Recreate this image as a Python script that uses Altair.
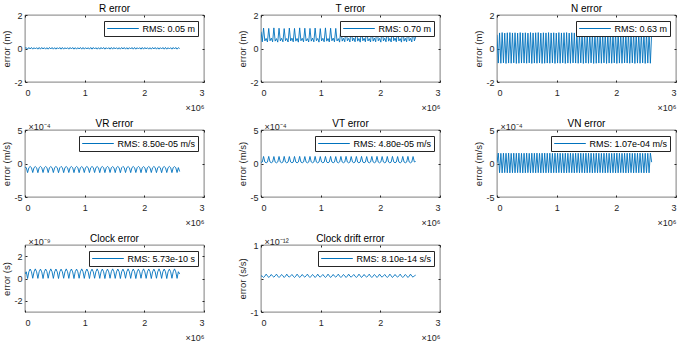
import altair as alt
import pandas as pd

# sample times (hours since start), one sample every 6 h
HOURS = [
    0, 6, 12, 18, 24, 30, 36, 42, 48, 54, 60, 66, 72, 78, 84, 90, 96, 102, 108, 114,
    120, 126, 132, 138, 144, 150, 156, 162, 168, 174, 180, 186, 192, 198, 204, 210, 216, 222, 228, 234,
    240, 246, 252, 258, 264, 270, 276, 282, 288, 294, 300, 306, 312, 318, 324, 330, 336, 342, 348, 354,
    360, 366, 372, 378, 384, 390, 396, 402, 408, 414, 420, 426, 432, 438, 444, 450, 456, 462, 468, 474,
    480, 486, 492, 498, 504, 510, 516, 522, 528, 534, 540, 546, 552, 558, 564, 570, 576, 582, 588, 594,
    600, 606, 612, 618, 624, 630, 636, 642, 648, 654, 660, 666, 672, 678, 684, 690, 696, 702, 708, 714,
    720,
]

R_ERR = [
    0.02,
    0.05, -0.04, 0.06, -0.03, 0.06, -0.04, 0.05, -0.03, 0.05, -0.04, 0.06, -0.04, 0.06, -0.03, 0.05, -0.04, 0.05, -0.04, 0.06, -0.03,
    0.06, -0.04, 0.05, -0.04, 0.05, -0.03, 0.06, -0.04, 0.06, -0.04, 0.05, -0.03, 0.05, -0.04, 0.06, -0.03, 0.06, -0.04, 0.05, -0.04,
    0.05, -0.03, 0.06, -0.04, 0.06, -0.04, 0.05, -0.03, 0.05, -0.04, 0.06, -0.04, 0.06, -0.03, 0.05, -0.04, 0.05, -0.04, 0.06, -0.03,
    0.06, -0.04, 0.05, -0.03, 0.05, -0.04, 0.06, -0.04, 0.06, -0.03, 0.05, -0.04, 0.05, -0.04, 0.06, -0.03, 0.06, -0.04, 0.05, -0.04,
    0.05, -0.03, 0.06, -0.04, 0.06, -0.04, 0.05, -0.03, 0.05, -0.04, 0.06, -0.04, 0.06, -0.03, 0.05, -0.04, 0.05, -0.04, 0.06, -0.03,
    0.06, -0.04, 0.05, -0.04, 0.05, -0.03, 0.06, -0.04, 0.06, -0.04, 0.05, -0.03, 0.05, -0.04, 0.06, -0.03, 0.06, -0.04, 0.05, 0.00,
]

T_ERR = [
    1.00,
    0.40, 1.22, 0.45, 0.60, 0.39, 1.20, 0.46, 0.62, 0.40, 1.23, 0.44, 0.59, 0.38, 1.21, 0.45, 0.61, 0.40, 1.19, 0.46, 0.60,
    0.39, 1.22, 0.45, 0.62, 0.40, 1.20, 0.44, 0.60, 0.38, 1.23, 0.46, 0.61, 0.40, 1.21, 0.45, 0.59, 0.39, 1.20, 0.44, 0.62,
    0.40, 1.22, 0.46, 0.60, 0.38, 1.19, 0.45, 0.61, 0.40, 1.23, 0.44, 0.60, 0.39, 1.21, 0.46, 0.62, 0.40, 1.20, 0.45, 0.59,
    0.38, 1.22, 0.44, 0.61, 0.40, 1.20, 0.46, 0.60, 0.39, 1.23, 0.45, 0.62, 0.40, 1.21, 0.44, 0.60, 0.38, 1.19, 0.46, 0.61,
    0.40, 1.22, 0.45, 0.59, 0.39, 1.20, 0.44, 0.62, 0.40, 1.23, 0.46, 0.60, 0.38, 1.21, 0.45, 0.61, 0.40, 1.20, 0.44, 0.60,
    0.39, 1.22, 0.46, 0.62, 0.40, 1.20, 0.45, 0.59, 0.38, 1.23, 0.44, 0.61, 0.40, 1.21, 0.46, 0.60, 0.39, 1.20, 0.45, 0.68,
]

N_ERR = [
    0.82,
    -0.87, 0.93, -0.88, 0.95, -0.86, 0.92, -0.89, 0.94, -0.87, 0.95, -0.88, 0.93, -0.86, 0.94, -0.89, 0.92, -0.88, 0.95, -0.87, 0.93,
    -0.87, 0.94, -0.88, 0.92, -0.86, 0.95, -0.89, 0.93, -0.87, 0.94, -0.88, 0.95, -0.86, 0.92, -0.89, 0.94, -0.88, 0.93, -0.87, 0.95,
    -0.88, 0.93, -0.86, 0.94, -0.89, 0.92, -0.87, 0.95, -0.88, 0.93, -0.86, 0.94, -0.89, 0.95, -0.87, 0.92, -0.88, 0.94, -0.86, 0.93,
    -0.87, 0.95, -0.88, 0.92, -0.86, 0.94, -0.89, 0.93, -0.87, 0.95, -0.88, 0.94, -0.86, 0.92, -0.89, 0.93, -0.88, 0.95, -0.87, 0.94,
    -0.88, 0.92, -0.86, 0.95, -0.89, 0.93, -0.87, 0.94, -0.88, 0.92, -0.86, 0.95, -0.89, 0.94, -0.87, 0.93, -0.88, 0.95, -0.86, 0.92,
    -0.87, 0.94, -0.88, 0.93, -0.86, 0.95, -0.89, 0.92, -0.87, 0.94, -0.88, 0.93, -0.86, 0.95, -0.89, 0.94, -0.87, 0.92, -0.88, 0.90,
]

# velocity errors, in units of 1e-4 m/s
VR_ERR = [
    -0.55,
    -0.62, -1.36, -0.63, -0.45, -0.61, -1.35, -0.62, -0.46, -0.63, -1.37, -0.61, -0.44, -0.62, -1.35, -0.63, -0.45, -0.61, -1.36, -0.62, -0.46,
    -0.63, -1.35, -0.61, -0.45, -0.62, -1.37, -0.63, -0.44, -0.61, -1.36, -0.62, -0.46, -0.63, -1.35, -0.61, -0.45, -0.62, -1.36, -0.63, -0.44,
    -0.61, -1.37, -0.62, -0.46, -0.63, -1.35, -0.61, -0.45, -0.62, -1.36, -0.63, -0.44, -0.61, -1.35, -0.62, -0.46, -0.63, -1.37, -0.61, -0.45,
    -0.62, -1.36, -0.63, -0.44, -0.61, -1.35, -0.62, -0.46, -0.63, -1.36, -0.61, -0.45, -0.62, -1.37, -0.63, -0.44, -0.61, -1.35, -0.62, -0.46,
    -0.63, -1.36, -0.61, -0.45, -0.62, -1.35, -0.63, -0.44, -0.61, -1.37, -0.62, -0.46, -0.63, -1.36, -0.61, -0.45, -0.62, -1.35, -0.63, -0.44,
    -0.61, -1.36, -0.62, -0.46, -0.63, -1.37, -0.61, -0.45, -0.62, -1.35, -0.63, -0.44, -0.61, -1.36, -0.62, -0.46, -0.63, -1.35, -0.61, -1.20,
]

VT_ERR = [
    0.15,
    0.22, 1.05, 0.22, 0.10, 0.21, 1.06, 0.23, 0.11, 0.22, 1.04, 0.21, 0.10, 0.23, 1.05, 0.22, 0.11, 0.21, 1.06, 0.22, 0.10,
    0.22, 1.04, 0.23, 0.11, 0.21, 1.05, 0.22, 0.10, 0.23, 1.06, 0.21, 0.11, 0.22, 1.04, 0.22, 0.10, 0.21, 1.05, 0.23, 0.11,
    0.22, 1.06, 0.21, 0.10, 0.23, 1.04, 0.22, 0.11, 0.21, 1.05, 0.22, 0.10, 0.22, 1.06, 0.23, 0.11, 0.21, 1.04, 0.21, 0.10,
    0.23, 1.05, 0.22, 0.11, 0.22, 1.06, 0.22, 0.10, 0.21, 1.04, 0.23, 0.11, 0.22, 1.05, 0.21, 0.10, 0.23, 1.06, 0.22, 0.11,
    0.21, 1.04, 0.22, 0.10, 0.22, 1.05, 0.23, 0.11, 0.21, 1.06, 0.21, 0.10, 0.23, 1.04, 0.22, 0.11, 0.22, 1.05, 0.22, 0.10,
    0.21, 1.06, 0.23, 0.11, 0.22, 1.04, 0.21, 0.10, 0.23, 1.05, 0.22, 0.11, 0.21, 1.06, 0.22, 0.10, 0.22, 1.04, 0.23, 0.30,
]

VN_ERR = [
    0.10,
    1.55, -1.38, 1.52, -1.40, 1.54, -1.37, 1.53, -1.39, 1.55, -1.40, 1.52, -1.38, 1.54, -1.39, 1.53, -1.37, 1.55, -1.38, 1.52, -1.40,
    1.53, -1.39, 1.55, -1.37, 1.52, -1.40, 1.54, -1.38, 1.53, -1.39, 1.55, -1.37, 1.52, -1.40, 1.54, -1.38, 1.55, -1.39, 1.53, -1.37,
    1.54, -1.40, 1.52, -1.38, 1.55, -1.39, 1.53, -1.37, 1.54, -1.38, 1.52, -1.40, 1.55, -1.39, 1.53, -1.37, 1.54, -1.38, 1.52, -1.40,
    1.55, -1.37, 1.53, -1.39, 1.54, -1.38, 1.52, -1.40, 1.55, -1.39, 1.53, -1.37, 1.54, -1.40, 1.52, -1.38, 1.55, -1.39, 1.53, -1.37,
    1.52, -1.38, 1.54, -1.40, 1.55, -1.37, 1.53, -1.39, 1.52, -1.38, 1.54, -1.40, 1.55, -1.39, 1.53, -1.37, 1.52, -1.38, 1.54, -1.40,
    1.53, -1.39, 1.55, -1.37, 1.52, -1.40, 1.54, -1.38, 1.53, -1.39, 1.55, -1.37, 1.52, -1.40, 1.54, -1.38, 1.53, -1.39, 1.55, 0.20,
]

# clock error, in units of 1e-9 s
CLK_ERR = [
    0.40,
    0.60, 0.00, 0.60, 0.85, 0.61, 0.02, 0.59, 0.86, 0.60, 0.01, 0.61, 0.84, 0.59, 0.00, 0.60, 0.85, 0.61, 0.02, 0.59, 0.86,
    0.60, 0.01, 0.60, 0.85, 0.59, 0.00, 0.61, 0.84, 0.60, 0.02, 0.59, 0.86, 0.61, 0.01, 0.60, 0.85, 0.59, 0.00, 0.61, 0.84,
    0.60, 0.02, 0.60, 0.86, 0.61, 0.01, 0.59, 0.85, 0.60, 0.00, 0.61, 0.84, 0.59, 0.02, 0.60, 0.86, 0.61, 0.01, 0.59, 0.85,
    0.60, 0.00, 0.60, 0.84, 0.59, 0.02, 0.61, 0.86, 0.60, 0.01, 0.59, 0.85, 0.61, 0.00, 0.60, 0.84, 0.59, 0.02, 0.61, 0.86,
    0.60, 0.01, 0.60, 0.85, 0.61, 0.00, 0.59, 0.84, 0.60, 0.02, 0.61, 0.86, 0.59, 0.01, 0.60, 0.85, 0.61, 0.00, 0.59, 0.84,
    0.60, 0.02, 0.60, 0.86, 0.59, 0.01, 0.61, 0.85, 0.60, 0.00, 0.59, 0.84, 0.61, 0.02, 0.60, 0.86, 0.59, 0.01, 0.61, 0.40,
]

# clock drift error, in units of 1e-12 s/s
DRIFT_ERR = [
    0.08,
    0.07, 0.03, 0.07, 0.13, 0.08, 0.03, 0.07, 0.12, 0.07, 0.04, 0.08, 0.13, 0.07, 0.03, 0.07, 0.12, 0.08, 0.03, 0.07, 0.13,
    0.07, 0.04, 0.08, 0.12, 0.07, 0.03, 0.07, 0.13, 0.08, 0.03, 0.07, 0.12, 0.07, 0.04, 0.08, 0.13, 0.07, 0.03, 0.07, 0.12,
    0.08, 0.03, 0.07, 0.13, 0.07, 0.04, 0.08, 0.12, 0.07, 0.03, 0.07, 0.13, 0.08, 0.03, 0.07, 0.12, 0.07, 0.04, 0.08, 0.13,
    0.07, 0.03, 0.07, 0.12, 0.08, 0.03, 0.07, 0.13, 0.07, 0.04, 0.08, 0.12, 0.07, 0.03, 0.07, 0.13, 0.08, 0.03, 0.07, 0.12,
    0.07, 0.04, 0.08, 0.13, 0.07, 0.03, 0.07, 0.12, 0.08, 0.03, 0.07, 0.13, 0.07, 0.04, 0.08, 0.12, 0.07, 0.03, 0.07, 0.13,
    0.08, 0.03, 0.07, 0.12, 0.07, 0.04, 0.08, 0.13, 0.07, 0.03, 0.07, 0.12, 0.08, 0.03, 0.07, 0.13, 0.07, 0.04, 0.08, 0.10,
]

X_TICKS = [0, 1, 2, 3]

PANELS = [
    ("R error", "error (m)", R_ERR, [-2, 2], [-2, 0, 2], "", "RMS: 0.05 m"),
    ("T error", "error (m)", T_ERR, [-2, 2], [-2, 0, 2], "", "RMS: 0.70 m"),
    ("N error", "error (m)", N_ERR, [-2, 2], [-2, 0, 2], "", "RMS: 0.63 m"),
    ("VR error", "error (m/s)", VR_ERR, [-5, 5], [-5, 0, 5], "×10⁻⁴", "RMS: 8.50e-05 m/s"),
    ("VT error", "error (m/s)", VT_ERR, [-5, 5], [-5, 0, 5], "×10⁻⁴", "RMS: 4.80e-05 m/s"),
    ("VN error", "error (m/s)", VN_ERR, [-5, 5], [-5, 0, 5], "×10⁻⁴", "RMS: 1.07e-04 m/s"),
    ("Clock error", "error (s)", CLK_ERR, [-3, 3], [-2, 0, 2], "×10⁻⁹", "RMS: 5.73e-10 s"),
    ("Clock drift error", "error (s/s)", DRIFT_ERR, [-1, 1], [-1, 0, 1], "×10⁻¹²", "RMS: 8.10e-14 s/s"),
]

FONT = "Liberation Sans"
INK = "#262626"
BLUE = "#0072BD"
MINUS = "replace(datum.label, '\u2212', '-')"
W, H = 179, 67


def panel(title, ylab, vals, dom, yticks, expo, rms):
    df = pd.DataFrame({
        "t": [h * 3600 / 1e6 for h in HOURS],
        "v": vals,
        "s": [rms] * len(vals),
    })
    xs = alt.Scale(domain=[0, 3], nice=False, zero=False)
    ys = alt.Scale(domain=dom, nice=False, zero=False)
    base = alt.Chart(df)

    line = base.mark_line(strokeWidth=0.9, clip=True).encode(
        x=alt.X("t:Q", scale=xs, axis=alt.Axis(
            orient="bottom", values=X_TICKS, format="d", ticks=False, domain=False,
            grid=False, labelPadding=6, title="×10⁶", titleAnchor="end",
            titleFontSize=9, titlePadding=6)),
        y=alt.Y("v:Q", scale=ys, axis=alt.Axis(
            orient="left", values=yticks, format="d", ticks=False, domain=False,
            grid=False, labelPadding=3, labelExpr=MINUS, title=ylab, titlePadding=2)),
        color=alt.Color("s:N", scale=alt.Scale(range=[BLUE]), legend=alt.Legend(
            title=None, orient="top-right", offset=6, padding=2.5, clipHeight=10,
            strokeColor=INK, fillColor="white", symbolType="stroke",
            symbolSize=1000, symbolStrokeWidth=1, labelOffset=3,
            labelFontSize=9, labelFont=FONT, labelColor="#000")),
    )

    tick_axis = dict(labels=False, ticks=True, tickSize=2, tickColor=INK,
                     domain=False, grid=False, offset=-2)
    if expo:
        y_expo = alt.Axis(orient="left", values=yticks, title=expo, titleAngle=0,
                          titleAlign="left", titleBaseline="alphabetic",
                          titleX=1, titleY=-1, titleFontSize=9, **tick_axis)
    else:
        y_expo = alt.Axis(orient="left", values=yticks, title=None, **tick_axis)
    ghost1 = base.mark_point(opacity=0).encode(
        x=alt.X("t:Q", scale=xs, axis=alt.Axis(orient="bottom", values=X_TICKS, title=None, **tick_axis)),
        y=alt.Y("v:Q", scale=ys, axis=y_expo),
    )
    ghost2 = base.mark_point(opacity=0).encode(
        x=alt.X("t:Q", scale=xs, axis=alt.Axis(orient="top", values=X_TICKS, title=None, **tick_axis)),
        y=alt.Y("v:Q", scale=ys, axis=alt.Axis(orient="right", values=yticks, title=None, **tick_axis)),
    )
    return (
        alt.layer(line, ghost1, ghost2)
        .resolve_axis(x="independent", y="independent")
        .properties(width=W, height=H,
                    title=alt.TitleParams(title, offset=(-7 if expo else -3)))
    )


charts = [panel(*p) for p in PANELS]

chart = (
    alt.concat(*charts, columns=3, align="each", spacing={"row": 5, "column": 32})
    .resolve_scale(color="independent")
    .properties(padding={"left": 1, "top": 3, "right": 0, "bottom": 0})
    .configure(font=FONT)
    .configure_view(stroke=INK, strokeWidth=0.6)
    .configure_axis(labelFont=FONT, labelFontSize=9, labelColor=INK,
                    titleFont=FONT, titleFontSize=9.5, titleFontWeight="normal",
                    titleColor=INK)
    .configure_title(font=FONT, fontSize=10, fontWeight="normal", color="#000")
)

chart.save("out.html", embed_options={"renderer": "svg", "actions": False})
